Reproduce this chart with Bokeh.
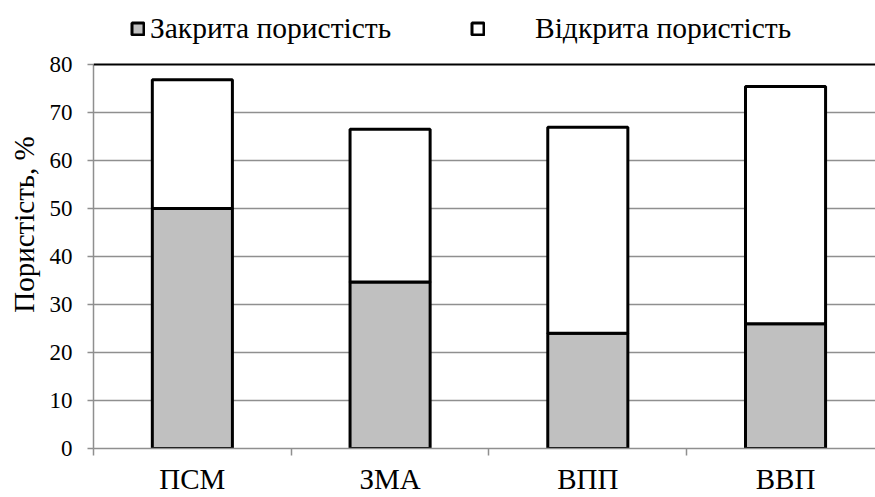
from bokeh.plotting import figure
from bokeh.models import (Range1d, FixedTicker, Legend, LegendItem, Span)
from bokeh.embed import file_html
from bokeh.resources import INLINE

categories = ["ПСМ", "ЗМА", "ВПП", "ВВП"]
closed_por = [50.0, 34.7, 24.0, 26.0]
open_por = [26.8, 31.8, 42.9, 49.4]
y_ticks = [0, 10, 20, 30, 40, 50, 60, 70, 80]
legend_labels = ["Закрита пористість", "Відкрита пористість"]

FONT = "Liberation Serif"
GRID = "#8f8f8f"

x_pos = [i + 0.5 for i in range(len(categories))]
bounds = [float(i) for i in range(len(categories) + 1)]

# frame spans the whole height above the x axis; value 80 lands 64px below top
p = figure(width=875, height=497, output_backend="svg", toolbar_location=None,
           x_range=Range1d(0, 3.955), y_range=Range1d(0, 93.33),
           min_border_left=93, min_border_right=0, min_border_top=0,
           min_border_bottom=49)
p.outline_line_color = None
p.background_fill_color = "white"

src = dict(x=x_pos, closed=closed_por, open=open_por)
rs = p.vbar_stack(["closed", "open"], x="x", width=0.405, source=src,
                  fill_color=["#c0c0c0", "white"], line_color="black",
                  line_width=3)

# Grid
p.xgrid.grid_line_color = None
p.ygrid.ticker = FixedTicker(ticks=y_ticks[:-1])
p.ygrid.grid_line_color = GRID
p.ygrid.grid_line_width = 1.5
p.add_layout(Span(location=y_ticks[-1], dimension="width", line_color="black", line_width=2))

# Y axis
ya = p.yaxis[0]
ya.ticker = FixedTicker(ticks=y_ticks)
ya.bounds = (0, 80)
ya.axis_line_color = GRID
ya.axis_line_width = 1.5
ya.major_tick_line_color = GRID
ya.major_tick_line_width = 1.5
ya.major_tick_out = 6
ya.major_tick_in = 0
ya.minor_tick_line_color = None
ya.major_label_text_font = FONT
ya.major_label_text_font_size = "23px"
ya.major_label_text_color = "black"
ya.major_label_standoff = 15
ya.axis_label = "Пористість, %"
ya.axis_label_text_font = FONT
ya.axis_label_text_font_size = "29px"
ya.axis_label_text_font_style = "normal"
ya.axis_label_text_color = "black"
ya.axis_label_standoff = 7

# X axis
xa = p.xaxis[0]
xa.ticker = FixedTicker(ticks=x_pos, minor_ticks=bounds)
xa.major_label_overrides = {x: c for x, c in zip(x_pos, categories)}
xa.axis_line_color = GRID
xa.axis_line_width = 1.5
xa.major_tick_line_color = None
xa.major_tick_out = 0
xa.major_tick_in = 0
xa.minor_tick_line_color = GRID
xa.minor_tick_line_width = 1.5
xa.minor_tick_out = 7
xa.minor_tick_in = 0
xa.major_label_text_font = FONT
xa.major_label_text_font_size = "29px"
xa.major_label_text_color = "black"
xa.major_label_standoff = 7

# Legends (two, to reproduce uneven spacing)
def make_legend(label, r, loc, standoff):
    lg = Legend(items=[LegendItem(label=label, renderers=[r])],
                location=loc, orientation="horizontal",
                label_text_font=FONT, label_text_font_size="29.5px",
                label_text_color="black", label_standoff=standoff,
                glyph_width=15, glyph_height=15, label_height=15,
                padding=0, margin=0, border_line_color=None,
                background_fill_alpha=0)
    p.add_layout(lg, "center")

make_legend(legend_labels[0], rs[0], (37, 403), 5)
make_legend(legend_labels[1], rs[1], (377, 403), 50)

open("out.html", "w").write(file_html(p, INLINE))
